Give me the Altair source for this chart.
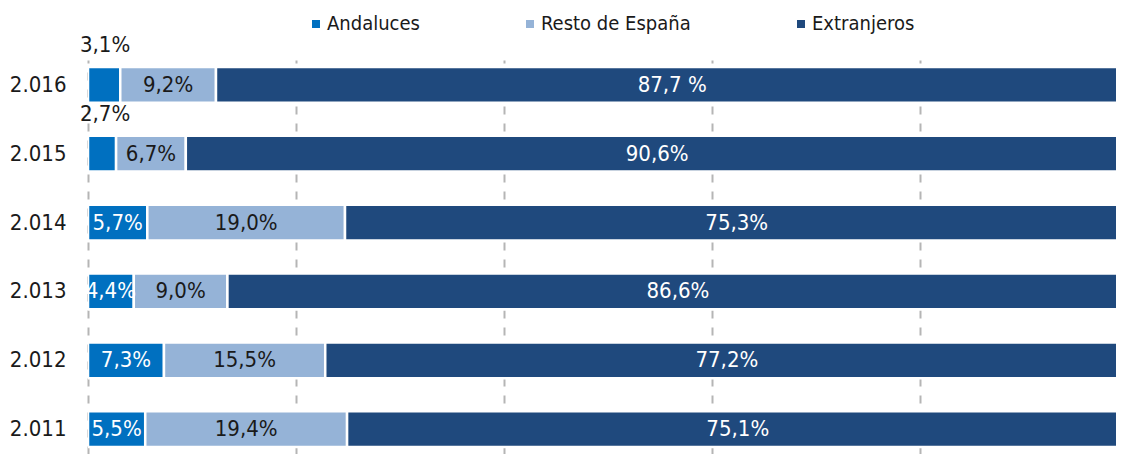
import altair as alt
import pandas as pd

years = ["2.016", "2.015", "2.014", "2.013", "2.012", "2.011"]
series = ["Andaluces", "Resto de España", "Extranjeros"]
andaluces = [3.1, 2.7, 5.7, 4.4, 7.3, 5.5]
resto = [9.2, 6.7, 19.0, 9.0, 15.5, 19.4]
extranjeros = [87.7, 90.6, 75.3, 86.6, 77.2, 75.1]
and_labels = ["3,1%", "2,7%", "5,7%", "4,4%", "7,3%", "5,5%"]
resto_labels = ["9,2%", "6,7%", "19,0%", "9,0%", "15,5%", "19,4%"]
ext_labels = ["87,7 %", "90,6%", "75,3%", "86,6%", "77,2%", "75,1%"]
colors = ["#0070C0", "#95B3D7", "#1F497D"]

FONT = "Liberation Sans Narrow, DejaVu Sans Condensed, Arial Narrow, sans-serif"

rows = []
for i, y in enumerate(years):
    start = 0.0
    for k, (vals, labs) in enumerate([(andaluces, and_labels), (resto, resto_labels), (extranjeros, ext_labels)]):
        v = vals[i]
        rows.append({
            "year": y, "serie": series[k], "order": k, "value": v,
            "x0": start, "x1": start + v, "mid": start + v / 2, "label": labs[i],
            "outside": (k == 0 and v < 4),
        })
        start += v
df = pd.DataFrame(rows)

xscale = alt.Scale(domain=[0, 98.8], nice=False, zero=False)
yscale = alt.Scale(domain=years, paddingInner=0.48, paddingOuter=0.1)

base = alt.Chart(df)

bars = base.mark_bar(stroke="white", strokeWidth=2.5, clip=True).encode(
    x=alt.X("x0:Q", scale=xscale,
            axis=alt.Axis(values=[0, 20, 40, 60, 80], grid=True, labels=False, ticks=False,
                          domain=False, title=None, gridColor="#b5b5b5", gridDash=[8, 9],
                          gridWidth=2)),
    x2="x1:Q",
    y=alt.Y("year:N", scale=yscale, sort=years,
            axis=alt.Axis(title=None, domain=False, ticks=False, labelFontSize=22,
                          labelColor="#1a1a1a", labelPadding=22, labelFont=FONT)),
    color=alt.Color("serie:N", scale=alt.Scale(domain=series, range=colors),
                    legend=alt.Legend(title=None, orient="none", legendX=218, legendY=-46,
                                      direction="horizontal", symbolType="square",
                                      symbolSize=90, labelFontSize=20, labelFont=FONT,
                                      labelColor="#1a1a1a", columnPadding=100,
                                      labelOffset=1)),
    order="order:Q",
)

inside = base.transform_filter(~alt.datum.outside).mark_text(
    fontSize=22, font=FONT, baseline="middle", align="center"
).encode(
    x=alt.X("mid:Q", scale=xscale),
    y=alt.Y("year:N", scale=yscale, sort=years),
    text="label:N",
    color=alt.condition(alt.datum.serie == "Resto de España", alt.value("#1a1a1a"), alt.value("white")),
)

outside = base.transform_filter(alt.datum.outside).mark_text(
    fontSize=22, font=FONT, baseline="middle", align="left", dx=-8, dy=-40, color="#1a1a1a"
).encode(
    x=alt.X("x0:Q", scale=xscale),
    y=alt.Y("year:N", scale=yscale, sort=years),
    text="label:N",
)

chart = alt.layer(bars, inside, outside).properties(
    width=1028, height=394,
    autosize=alt.AutoSizeParams(type="none"),
    padding={"left": 80, "top": 52, "right": 0, "bottom": 0},
).configure_view(stroke=None)

chart.save("out.html", embed_options={"renderer": "svg", "actions": False})
